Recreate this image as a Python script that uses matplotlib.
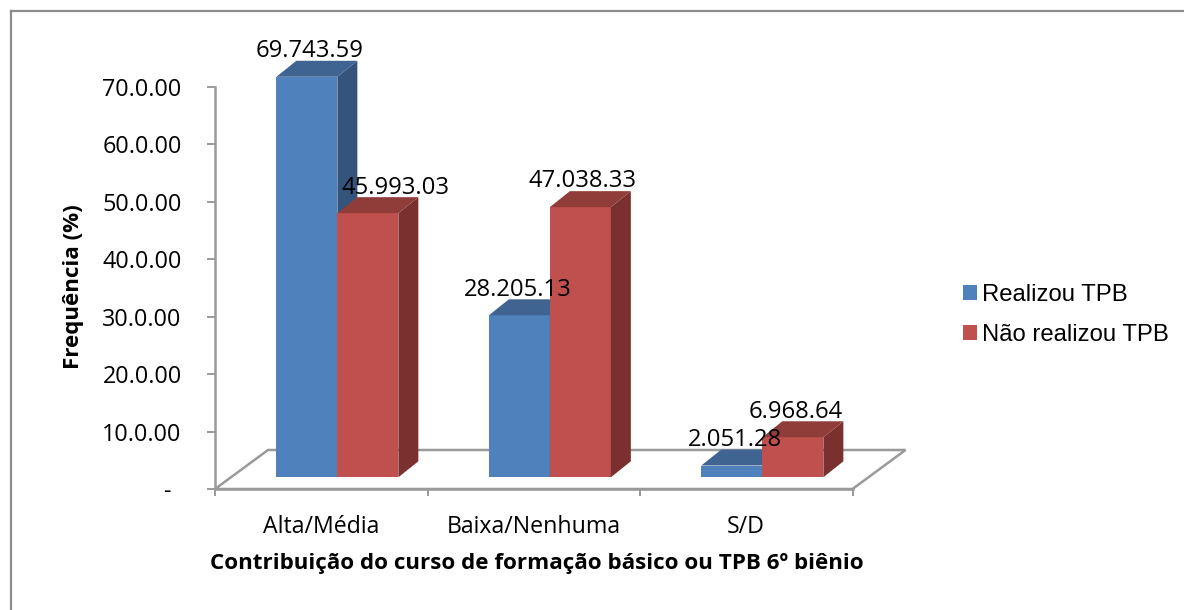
import numpy as np
import matplotlib
matplotlib.use("Agg")
import matplotlib.pyplot as plt
from matplotlib.lines import Line2D
from matplotlib.patches import Patch, Polygon
from matplotlib.transforms import ScaledTranslation

categories = ["Alta/Média", "Baixa/Nenhuma", "S/D"]
realizou = [69.74359, 28.20513, 2.05128]
nao_realizou = [45.99303, 47.03833, 6.96864]
realizou_labels = ["69.743.59", "28.205.13", "2.051.28"]
nao_realizou_labels = ["45.993.03", "47.038.33", "6.968.64"]
series_names = ["Realizou TPB", "Não realizou TPB"]
ytick_values = [0, 10, 20, 30, 40, 50, 60, 70]
ytick_labels = ["-", "10.0.00", "20.0.00", "30.0.00", "40.0.00", "50.0.00", "60.0.00", "70.0.00"]
x_title = "Contribuição do curso de formação básico ou TPB 6º biênio"
y_title = "Frequência (%)"

W, H = 1184, 610
fig = plt.figure(figsize=(W / 100, H / 100), dpi=100)
L, R, T, B = 215, 852.5, 87, 489
ax = fig.add_axes([L / W, 1 - B / H, (R - L) / W, (B - T) / H])
ax.set_xlim(-0.5, 2.5)
ax.set_ylim(0, 70)
ax.patch.set_alpha(0)

px_x = (R - L) / 3
px_y = (B - T) / 70
GRAY = "#9a9a9a"
FONT = "Open Sans"

# chart frame
for xs, ys in [((10.5, 10.5), (10.5, 610)), ((10.5, 1184), (10.5, 10.5))]:
    fig.add_artist(Line2D([x / W for x in xs], [1 - y / H for y in ys], color="#8c8c8c", lw=1.6))

# floor
dfx, dfy = 53 / px_x, 39 / px_y
ax.add_patch(Polygon([(-0.5, 0), (-0.5 + dfx, dfy), (2.5 + dfx, dfy), (2.5, 0)], closed=True,
                     fill=False, ec=GRAY, lw=1.8, clip_on=False, zorder=1))

# bars
w = 61 / px_x
shift = 16.1 / px_x
base = 11.7 / px_y
dx, dy = 20 / px_x, 16 / px_y
x = np.arange(len(categories))
styles = [("#4F81BD", "#34547B", "#3F6491"), ("#C0504D", "#7A302E", "#903C39")]


def bars(xpos, vals, st, z):
    ax.bar(xpos, vals, w, bottom=base, color=st[0], lw=0, zorder=z, clip_on=False)
    for xc, v in zip(xpos, vals):
        x0, x1, top = xc - w / 2, xc + w / 2, base + v
        ax.add_patch(Polygon([(x1, base), (x1 + dx, base + dy), (x1 + dx, top + dy), (x1, top)],
                             fc=st[1], lw=0, zorder=z, clip_on=False))
        ax.add_patch(Polygon([(x0, top), (x0 + dx, top + dy), (x1 + dx, top + dy), (x1, top)],
                             fc=st[2], lw=0, zorder=z, clip_on=False))


bars(x + shift - w / 2, realizou, styles[0], 3)
bars(x + shift + w / 2, nao_realizou, styles[1], 4)

# value labels
offs_blue = [(3, 26), (-2, 25), (3, 26)]
offs_red = [(28, 25), (2, 26), (3, 25)]
lab = dict(family=FONT, fontsize=17.1, color="black", ha="center", va="center", zorder=6,
           textcoords="offset pixels", annotation_clip=False)
for i in x:
    ax.annotate(realizou_labels[i], (i + shift - w / 2, base + realizou[i]),
                xytext=offs_blue[i], **lab)
    ax.annotate(nao_realizou_labels[i], (i + shift + w / 2, base + nao_realizou[i]),
                xytext=offs_red[i], **lab)

# axes
for s in ["top", "right"]:
    ax.spines[s].set_visible(False)
for s in ["left", "bottom"]:
    ax.spines[s].set_color(GRAY)
    ax.spines[s].set_linewidth(1.8)
ax.set_yticks(ytick_values, ytick_labels, family=FONT, fontsize=16.8)
ax.tick_params(axis="y", length=6, width=1.4, color=GRAY, pad=18)
zero_label = ax.get_yticklabels()[0]
zero_label.set_transform(zero_label.get_transform() + ScaledTranslation(-0.11, 0, fig.dpi_scale_trans))
ax.set_xticks([-0.5, 0.5, 1.5, 2.5], [""] * 4)
ax.tick_params(axis="x", which="major", length=5, width=1.4, color=GRAY)
ax.set_xticks(x, categories, minor=True, family=FONT, fontsize=16.7)
ax.tick_params(axis="x", which="minor", length=0, pad=19)

fig.text(537 / W, 1 - 564 / H, x_title, family=FONT, fontweight="bold", fontsize=16.1,
         ha="center", va="center")
fig.text(73 / W, 1 - 287 / H, y_title, family=FONT, fontweight="bold", fontsize=16.1,
         rotation=90, ha="center", va="center")

handles = [Patch(fc=styles[0][0], lw=0), Patch(fc=styles[1][0], lw=0)]
fig.legend(handles, series_names, loc="center left", bbox_to_anchor=(963 / W, 1 - 315 / H),
           frameon=False, prop={"family": "Liberation Sans", "size": 17.2},
           handlelength=0.59, handleheight=0.59, handletextpad=0.22,
           labelspacing=0.78, borderpad=0, borderaxespad=0)

fig.savefig("out.png", dpi=100)
